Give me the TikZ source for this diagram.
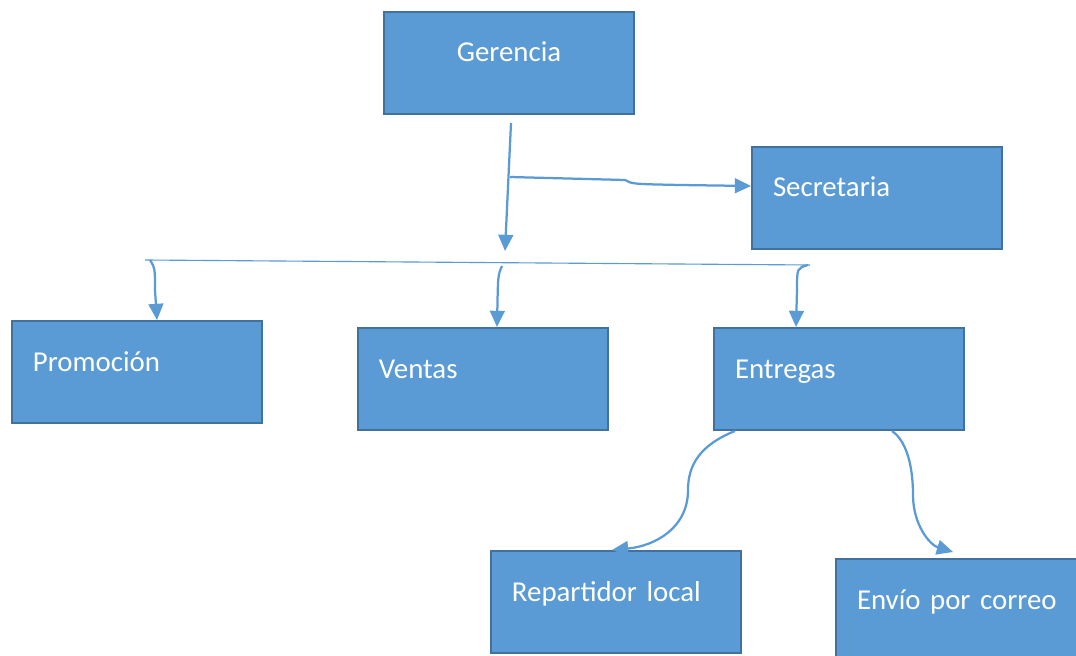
\documentclass[tikz,border=0pt]{standalone}
\usepackage{fontspec}
\setmainfont{Carlito}
\usetikzlibrary{arrows.meta}
\definecolor{cajaazul}{HTML}{5B9BD5}
\definecolor{bordeazul}{HTML}{41719C}
\tikzset{
	caja/.style={draw=bordeazul, line width=1.4pt, fill=cajaazul, text=white, anchor=north west,
		font=\fontsize{20.5}{24}\selectfont, inner xsep=0.525cm, inner ysep=0pt,
		text width=5.2cm, text height=1.25cm, text depth=1.3cm, align=left},
	flecha/.style={draw=cajaazul, line width=1.6pt, -{Triangle[length=11.5pt,width=10.5pt]}}
}
\begin{document}
\begin{tikzpicture}[x=0.025cm, y=-0.025cm]
	\useasboundingbox[fill=white] (0, 0) rectangle (1076, 656);

	\node[caja, align=center] (ger) at (383, 11) {Gerencia};
	\node[caja] (sec) at (751, 146) {Secretaria};
	\node[caja] (pro) at (11, 320) {Promoción};
	\node[caja] (ven) at (357, 327) {Ventas};
	\node[caja] (ent) at (713, 327) {Entregas};
	\node[caja] (rep) at (490, 550) {Repartidor local};
	\node[caja] (env) at (835, 558) {Envío por correo};

	\coordinate (bajada) at (505, 251);
	\coordinate (rama) at (510, 177);
	\coordinate (busL) at (145, 260);
	\coordinate (busR) at (810, 265);

	\draw[flecha] (511, 0 |- ger.south) ++(0, 8) -- (bajada);
	\draw[flecha] (rama) -- (625, 180) .. controls (632, 184) .. (680, 185) -- (sec.west |- 0, 186);
	\draw[draw=cajaazul, line width=0.8pt] (busL) -- (busR);

	\draw[flecha] (150, 260) .. controls (155, 268) .. (155, 290) -- (157, 0 |- pro.north);
	\draw[flecha] (502, 266) .. controls (498, 275) .. (497, 0 |- ven.north);
	\draw[flecha] (808, 265) .. controls (797, 268) .. (797, 290) -- (796, 0 |- ent.north);

	\draw[flecha] (735, 0 |- ent.south) .. controls (700, 445) and (688, 465) .. (688, 490)
		.. controls (688, 528) and (655, 546) .. (612, 0 |- rep.north);
	\draw[flecha] (892, 0 |- ent.south) .. controls (908, 442) and (913, 470) .. (913, 495)
		.. controls (913, 525) and (930, 545) .. (953, 552);
\end{tikzpicture}
\end{document}
